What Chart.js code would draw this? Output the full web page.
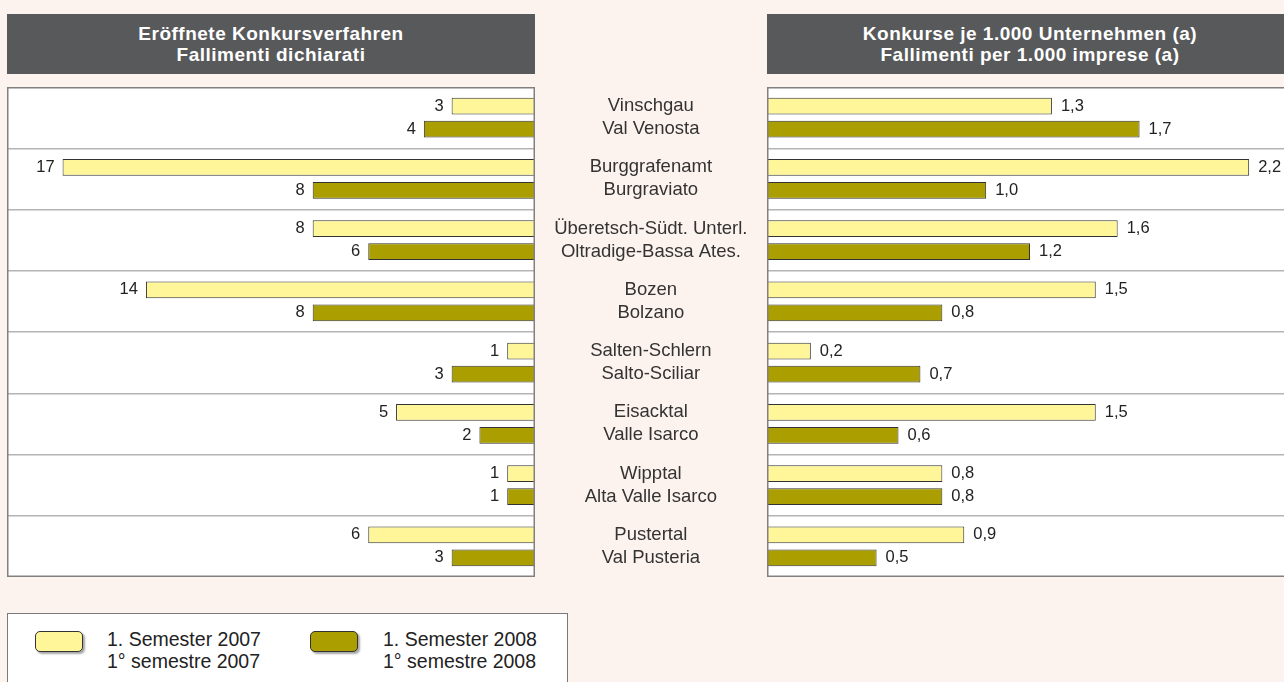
<!DOCTYPE html>
<html><head><meta charset="utf-8">
<script src="https://cdn.jsdelivr.net/npm/chart.js@4"></script>
<style>
html,body{margin:0;padding:0;background:#fdf3ee;width:1284px;height:682px;overflow:hidden;position:relative;font-family:"Liberation Sans",Arial,sans-serif;}
.hdr{position:absolute;top:14px;height:60px;background:#58595b;color:#fff;font-weight:bold;font-size:19px;letter-spacing:0.5px;line-height:21px;text-align:center;display:flex;flex-direction:column;justify-content:center;}
#c1wrap{position:absolute;left:7px;top:87px;width:528px;height:490px;}
#c2wrap{position:absolute;left:535px;top:87px;width:758px;height:490px;}
.legend{position:absolute;left:7px;top:613px;width:561px;height:80px;background:#fff;border:1px solid #7a7a7a;box-sizing:border-box;}
.sw{position:absolute;top:17px;width:48px;height:21px;border:1px solid #333;border-radius:5px;box-shadow:2px 2px 2px rgba(0,0,0,0.35);box-sizing:border-box;}
.lt{position:absolute;top:14px;font-size:19.5px;line-height:22px;color:#222;white-space:nowrap;}
</style>
</head><body>
<div class="hdr" style="left:7px;width:528px;"><div>Eröffnete Konkursverfahren</div><div>Fallimenti dichiarati</div></div>
<div class="hdr" style="left:767px;width:526px;"><div>Konkurse je 1.000 Unternehmen (a)</div><div>Fallimenti per 1.000 imprese (a)</div></div>
<div id="c1wrap"><canvas id="c1" width="528" height="490"></canvas></div>
<div id="c2wrap"><canvas id="c2" width="758" height="490"></canvas></div>
<div class="legend">
  <div class="sw" style="left:27px;background:#fff69a;"></div>
  <div class="lt" style="left:99px;">1. Semester 2007<br>1° semestre 2007</div>
  <div class="sw" style="left:302px;background:#aa9e00;"></div>
  <div class="lt" style="left:375px;">1. Semester 2008<br>1° semestre 2008</div>
</div>
<script>
const categories = [
  ["Vinschgau","Val Venosta"],
  ["Burggrafenamt","Burgraviato"],
  ["Überetsch-Südt. Unterl.","Oltradige-Bassa Ates."],
  ["Bozen","Bolzano"],
  ["Salten-Schlern","Salto-Sciliar"],
  ["Eisacktal","Valle Isarco"],
  ["Wipptal","Alta Valle Isarco"],
  ["Pustertal","Val Pusteria"]
];
const seriesNames = ["1. Semester 2007 / 1° semestre 2007","1. Semester 2008 / 1° semestre 2008"];
const bankrupt2007 = [3,17,8,14,1,5,1,6];
const bankrupt2008 = [4,8,6,8,3,2,1,3];
const rate2007 = [1.3,2.2,1.6,1.5,0.2,1.5,0.8,0.9];
const rate2008 = [1.7,1.0,1.2,0.8,0.7,0.6,0.8,0.5];

const YELLOW = '#fff69a', OLIVE = '#aa9e00', EDGE = '#333333';
const FONT = '"Liberation Sans", Arial, sans-serif';

const framePlugin = {
  id: 'frame',
  beforeDraw(chart) {
    const a = chart.chartArea, ctx = chart.ctx;
    ctx.save(); ctx.fillStyle = '#ffffff';
    ctx.fillRect(a.left, a.top, a.right - a.left, a.bottom - a.top);
    ctx.restore();
  },
  afterDraw(chart) {
    const a = chart.chartArea, ctx = chart.ctx;
    ctx.save(); ctx.strokeStyle = '#808080'; ctx.lineWidth = 1.5;
    ctx.strokeRect(a.left + 0.75, a.top + 0.75, a.right - a.left - 1.5, a.bottom - a.top - 1.5);
    ctx.restore();
  }
};

function valueLabels(side, fmt) {
  return {
    id: 'valueLabels',
    afterDatasetsDraw(chart) {
      const ctx = chart.ctx;
      ctx.save();
      ctx.font = '16.5px ' + FONT;
      ctx.fillStyle = '#222';
      ctx.textBaseline = 'middle';
      ctx.textAlign = side === 'left' ? 'right' : 'left';
      chart.data.datasets.forEach((ds, di) => {
        chart.getDatasetMeta(di).data.forEach((bar, i) => {
          const x = side === 'left' ? bar.x - 8 : bar.x + 9;
          ctx.fillText(fmt(ds.data[i]), x, bar.y);
        });
      });
      ctx.restore();
    }
  };
}

function datasets(a, b) {
  return [
    {label: seriesNames[0], data: a, backgroundColor: YELLOW, borderColor: EDGE, borderWidth: 1,
     categoryPercentage: 0.75, barPercentage: 0.72},
    {label: seriesNames[1], data: b, backgroundColor: OLIVE, borderColor: EDGE, borderWidth: 1,
     categoryPercentage: 0.75, barPercentage: 0.72}
  ];
}

const gridOpts = {offset: true, color: '#b4b4b4', lineWidth: 1.5, drawTicks: false};

new Chart(document.getElementById('c1'), {
  type: 'bar',
  data: {labels: categories, datasets: datasets(bankrupt2007, bankrupt2008)},
  options: {
    responsive: false, animation: false, devicePixelRatio: 1, indexAxis: 'y',
    layout: {padding: 0},
    plugins: {legend: {display: false}, tooltip: {enabled: false}},
    scales: {
      x: {display: false, reverse: true, min: 0, max: 19},
      y: {display: true, ticks: {display: false}, grid: gridOpts, border: {display: false},
          afterFit(s) { s.width = 0; s.paddingTop = 0; s.paddingBottom = 0; }}
    }
  },
  plugins: [framePlugin, valueLabels('left', v => String(v))]
});

new Chart(document.getElementById('c2'), {
  type: 'bar',
  data: {labels: categories, datasets: datasets(rate2007, rate2008)},
  options: {
    responsive: false, animation: false, devicePixelRatio: 1, indexAxis: 'y',
    layout: {padding: 0},
    plugins: {legend: {display: false}, tooltip: {enabled: false}},
    scales: {
      x: {display: false, min: 0, max: 2.4},
      y: {display: true, position: 'left',
          ticks: {color: '#333', font: {family: FONT, size: 18.5, lineHeight: '23px'}, crossAlign: 'center', padding: 19.5},
          grid: gridOpts, border: {display: false},
          afterFit(s) { s.width = 232; s.paddingTop = 0; s.paddingBottom = 0; }}
    }
  },
  plugins: [framePlugin, valueLabels('right', v => v.toFixed(1).replace('.', ','))]
});
</script>
</body></html>
